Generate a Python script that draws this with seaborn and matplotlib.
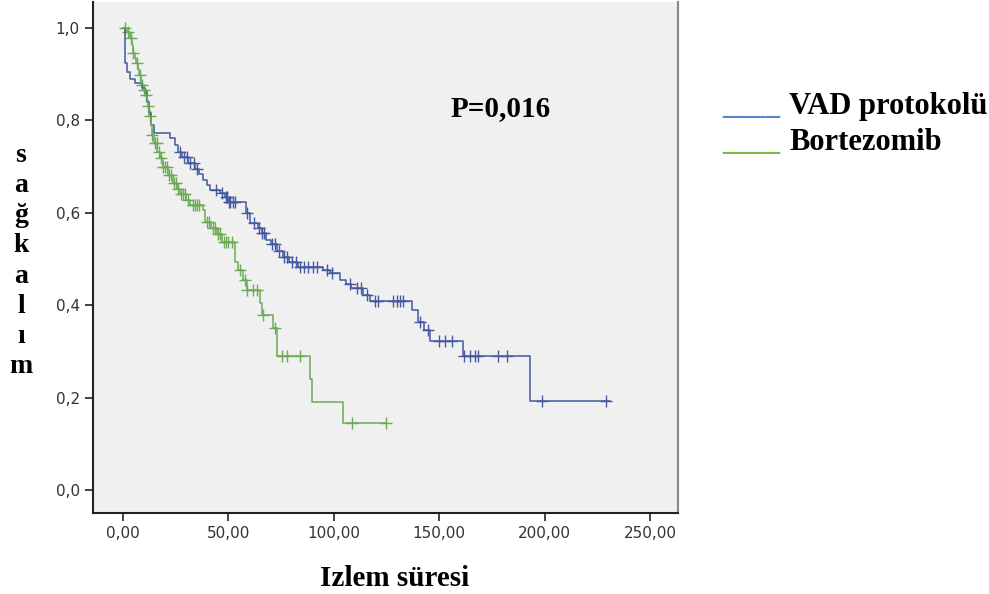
import numpy as np
import pandas as pd
import matplotlib
matplotlib.use('Agg')
import matplotlib.pyplot as plt
import seaborn as sns

# Kaplan-Meier steps (time, survival after the drop)
vad_times = [0, 1.0, 1.8, 3.3, 5.7, 8.9, 10.4, 11.5, 12.5, 13.5, 14.5, 22.3, 24.7, 26, 28,
             31, 34, 36, 38, 40, 41.5, 46, 48.5, 50, 58.5, 60.5, 64, 65.8, 68, 70, 73, 76,
             79, 83, 95, 98, 103, 106, 108, 114, 117, 137, 140, 143, 145.6, 161.5, 193]
vad_surv = [1.0, 0.924, 0.905, 0.89, 0.88, 0.87, 0.862, 0.84, 0.815, 0.79, 0.773, 0.762, 0.747,
            0.732, 0.72, 0.708, 0.695, 0.683, 0.671, 0.66, 0.65, 0.643, 0.635, 0.623, 0.60,
            0.578, 0.568, 0.556, 0.541, 0.532, 0.518, 0.505, 0.494, 0.483, 0.475, 0.469,
            0.455, 0.445, 0.437, 0.422, 0.408, 0.39, 0.364, 0.346, 0.323, 0.29, 0.193]
vad_end = 231
vad_censor = [27, 29, 30.5, 32, 33.5, 35, 44, 47, 49, 49.5, 50.5, 51, 52, 53, 59, 62, 64.5,
              66, 67, 70.5, 72, 74, 76.5, 78, 80, 82, 84, 86, 88, 90, 92, 97, 99, 107.7,
              111, 113, 116, 119.5, 121, 128, 130, 131.4, 133, 141, 144.7, 150, 152.8, 156,
              162, 164.5, 167, 168.5, 178, 182, 198.6, 229]

bor_times = [0, 1.7, 3.3, 4.2, 4.8, 5.7, 6.1, 7.0, 7.5, 8.8, 10.0, 10.4, 11.2, 11.8, 12.4,
             13.3, 13.9, 14.5, 16.2, 17.8, 19.0, 21.2, 23.8, 25.5, 27, 30, 32, 38, 39, 42,
             44.4, 46.8, 53, 54.7, 57, 58.7, 65, 65.8, 71.3, 73, 88.7, 89.5, 104.5]
bor_surv = [1.0, 0.99, 0.978, 0.962, 0.946, 0.935, 0.924, 0.91, 0.898, 0.877, 0.866, 0.855,
            0.843, 0.83, 0.81, 0.79, 0.768, 0.75, 0.732, 0.718, 0.70, 0.682, 0.665, 0.652,
            0.64, 0.628, 0.617, 0.605, 0.58, 0.567, 0.555, 0.537, 0.494, 0.476, 0.455,
            0.433, 0.404, 0.379, 0.35, 0.289, 0.24, 0.19, 0.146]
bor_end = 125
bor_censor = [1, 2.5, 4, 5, 6.5, 8, 9, 10, 11, 12, 13, 14, 15, 16, 17, 18, 19, 20, 21, 22, 23,
              24, 25, 26, 27.5, 28.5, 29.5, 31, 33, 34, 35, 36, 40, 41, 42.5, 43.5, 45, 46,
              48, 49, 50, 51.5, 55.5, 57.8, 59, 61.7, 63.6, 66.4, 72, 75.3, 77.6, 84, 108.5, 125]

x_ticks = [0, 50, 100, 150, 200, 250]
y_ticks = [0.0, 0.2, 0.4, 0.6, 0.8, 1.0]

vad_color = '#4459a0'
bor_color = '#6cab55'


def curve_frame(times, surv, end):
    df = pd.DataFrame({'t': times + [end], 's': surv + [surv[-1]]})
    return df


def censor_frame(times, surv, cens):
    idx = np.searchsorted(times, cens, side='right') - 1
    return pd.DataFrame({'t': cens, 's': np.array(surv)[idx]})


sns.set_style('white')
plt.rcParams['font.family'] = ['DejaVu Sans']
plt.rcParams['text.color'] = 'black'

fig = plt.figure(figsize=(9.89, 5.94), dpi=100)
ax = fig.add_axes([93 / 989, 1 - 513 / 594, (678 - 93) / 989, (513 - 2) / 594])
ax.set_facecolor('#f0f0f0')

for times, surv, end, cens, col in [(vad_times, vad_surv, vad_end, vad_censor, vad_color),
                                    (bor_times, bor_surv, bor_end, bor_censor, bor_color)]:
    sns.lineplot(data=curve_frame(times, surv, end), x='t', y='s', ax=ax, color=col,
                 drawstyle='steps-post', linewidth=1.1, sort=False)
    sns.scatterplot(data=censor_frame(times, surv, cens), x='t', y='s', ax=ax, color=col,
                    marker='+', s=75, linewidth=1.0)

ax.set_xlim(-14.2, 263.3)
ax.set_ylim(-0.0498, 1.056)
ax.set_xticks(x_ticks)
ax.set_xticklabels([f'{v:.2f}'.replace('.', ',') for v in x_ticks])
ax.set_yticks(y_ticks)
ax.set_yticklabels([f'{v:.1f}'.replace('.', ',') for v in y_ticks])
ax.tick_params(axis='both', direction='out', length=6, width=1.2, color='#222222',
               labelsize=11, labelcolor='#333333', left=True, bottom=True)
ax.set_xlabel('')
ax.set_ylabel('')
ax.spines['top'].set_visible(False)
for side in ['left', 'bottom']:
    ax.spines[side].set_color('#222222')
    ax.spines[side].set_linewidth(1.5)
ax.spines['right'].set_color('#888888')
ax.spines['right'].set_linewidth(1.5)

serif = ['Liberation Serif', 'DejaVu Serif']
ax.text(0.697, 0.792, 'P=0,016', transform=ax.transAxes, ha='center', va='center',
        fontsize=21, fontweight='bold', family=serif)

fig.text(395 / 989, 1 - 578 / 594, 'Izlem süresi', ha='center', va='center',
         fontsize=21, fontweight='bold', family=serif)
fig.text(21 / 989, 1 - 261 / 594, '\n'.join('sağkalım'), ha='center', va='center',
         fontsize=20, fontweight='bold', family=serif, linespacing=1.27)

# legend written as coloured underscores followed by the labels
fig.text(722 / 989, 1 - 114 / 594, '____', color='#5b84d0', fontsize=21, fontweight='bold',
         family=serif, va='baseline')
fig.text(789 / 989, 1 - 114 / 594, 'VAD protokolü', fontsize=22, fontweight='bold',
         family=serif, va='baseline')
fig.text(722 / 989, 1 - 150 / 594, '____', color='#7ab648', fontsize=21, fontweight='bold',
         family=serif, va='baseline')
fig.text(789 / 989, 1 - 150 / 594, 'Bortezomib', fontsize=22, fontweight='bold',
         family=serif, va='baseline')

fig.savefig('out.png', dpi=100, facecolor='white')
